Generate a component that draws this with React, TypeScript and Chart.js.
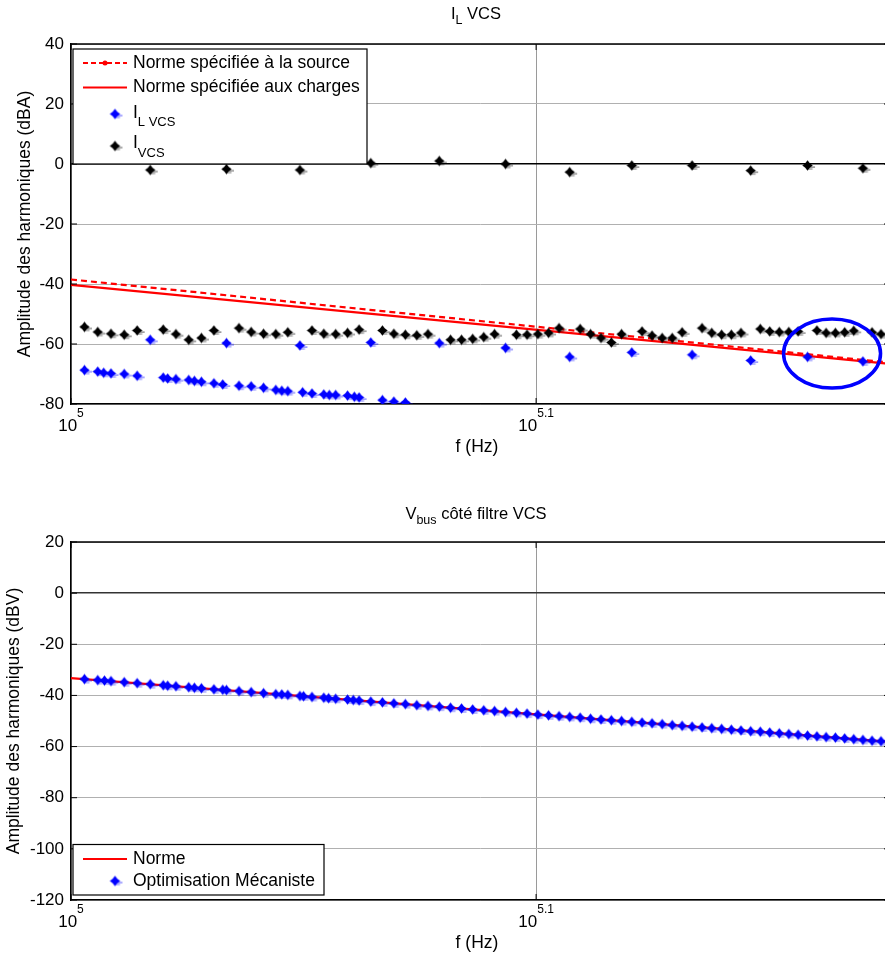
import React, { useEffect, useRef } from "react";
import { Chart, registerables } from "chart.js";

Chart.register(...registerables);

const FONT = '"Liberation Sans", Arial, Helvetica, sans-serif';
const RED = "#ff0000";
const BLUE = "#0000ff";
const BLACK = "#000000";

// ---------- shared x axis ----------
const xTickExponents = [5, 5.1];
const xMinHz = 100000;
const xMaxHz = 150000;
const xAxisTitle = "f (Hz)";

// ---------- top subplot (I_L VCS) ----------
const topYMin = -80;
const topYMax = 40;
const topYLabel = "Amplitude des harmoniques (dBA)";
const harmFreqsKHz = [104, 108, 112, 116, 120, 124, 128, 132, 136, 140, 144, 148];
const iVcsHarm = [-2.0, -1.7, -2.0, 0.3, 1.0, 0.0, -2.7, -0.5, -0.5, -2.2, -0.5, -1.4];
const iLVcsHarm = [-58.6, -59.7, -60.5, -59.5, -59.7, -61.3, -64.3, -62.8, -63.6, -65.5, -64.3, -65.8];
const sideFreqsKHz = [
  100.67, 101.33, 102, 102.67, 103.33,
  104.67, 105.33, 106, 106.67, 107.33,
  108.67, 109.33, 110, 110.67, 111.33,
  112.67, 113.33, 114, 114.67, 115.33,
  116.67, 117.33, 118, 118.67, 119.33,
  120.67, 121.33, 122, 122.67, 123.33,
  124.67, 125.33, 126, 126.67, 127.33,
  128.67, 129.33, 130, 130.67, 131.33,
  132.67, 133.33, 134, 134.67, 135.33,
  136.67, 137.33, 138, 138.67, 139.33,
  140.67, 141.33, 142, 142.67, 143.33,
  144.67, 145.33, 146, 146.67, 147.33,
  148.67, 149.33,
];
const iVcsSide = [
  -54.3, -56.0, -56.6, -56.9, -55.5,
  -55.2, -56.7, -58.6, -58.0, -55.5,
  -54.7, -56.0, -56.6, -56.7, -56.1,
  -55.5, -56.6, -56.7, -56.3, -55.2,
  -55.5, -56.6, -56.9, -57.1, -56.7,
  -58.6, -58.6, -58.3, -57.7, -56.7,
  -56.9, -56.9, -56.7, -56.3, -54.7,
  -55.0, -56.7, -58.0, -59.5, -56.7,
  -55.8, -57.2, -58.0, -58.0, -56.1,
  -54.7, -56.3, -56.9, -56.9, -56.3,
  -55.0, -55.8, -56.0, -56.0, -55.8,
  -55.5, -56.3, -56.3, -56.1, -55.6,
  -56.1, -56.7,
];
const iLVcsLowFreqsKHz = [
  100.67, 101.33, 101.63, 102.0, 102.67, 103.33,
  104.67, 104.9, 105.33, 106.0, 106.3, 106.67, 107.33, 107.8,
  108.67, 109.33, 110.0, 110.67, 111.0, 111.33,
  112.15, 112.67, 113.33, 113.64, 114.0, 114.67, 115.06, 115.33,
  116.67, 117.33, 118.0,
];
const iLVcsLow = [
  -68.7, -69.2, -69.6, -69.8, -70.0, -70.6,
  -71.2, -71.5, -71.7, -72.0, -72.3, -72.6, -73.1, -73.5,
  -73.9, -74.1, -74.6, -75.3, -75.6, -75.7,
  -76.1, -76.5, -76.8, -77.0, -77.0, -77.2, -77.6, -77.8,
  -78.7, -79.2, -79.5,
];
const normFreqsKHz = [100, 150];
const normSource = [-38.5, -66.2];
const normCharges = [-40.3, -66.6];
const ellipseFreqsKHz = [142.3, 149.3];
const ellipseDb = [-74.7, -51.7];

// ---------- bottom subplot (V_bus) ----------
const botYMin = -120;
const botYMax = 20;
const botYLabel = "Amplitude des harmoniques (dBV)";
const vbusFreqsKHz = [
  100.67, 101.33, 101.67, 102, 102.67, 103.33, 104, 104.67, 104.9, 105.33,
  106, 106.3, 106.67, 107.33, 107.8, 108, 108.67, 109.33, 110, 110.67,
  111, 111.33, 112, 112.2, 112.67, 113.33, 113.6, 114, 114.67, 115,
  115.33, 116, 116.67, 117.33, 118, 118.67, 119.33, 120, 120.67, 121.33,
  122, 122.67, 123.33, 124, 124.67, 125.33, 126, 126.67, 127.33, 128,
  128.67, 129.33, 130, 130.67, 131.33, 132, 132.67, 133.33, 134, 134.67,
  135.33, 136, 136.67, 137.33, 138, 138.67, 139.33, 140, 140.67, 141.33,
  142, 142.67, 143.33, 144, 144.67, 145.33, 146, 146.67, 147.33, 148,
  148.67, 149.33,
];
const vbusValues = [
  -33.6, -34.0, -34.2, -34.4, -34.8, -35.2, -35.6, -36.0, -36.2, -36.4,
  -36.8, -37.0, -37.2, -37.6, -37.8, -37.9, -38.3, -38.7, -39.1, -39.5,
  -39.6, -39.8, -40.2, -40.3, -40.6, -40.9, -41.1, -41.3, -41.6, -41.8,
  -42.0, -42.4, -42.7, -43.1, -43.4, -43.8, -44.1, -44.4, -44.8, -45.1,
  -45.5, -45.8, -46.1, -46.5, -46.8, -47.1, -47.5, -47.8, -48.1, -48.4,
  -48.7, -49.1, -49.4, -49.7, -50.0, -50.3, -50.6, -50.9, -51.2, -51.6,
  -51.9, -52.2, -52.5, -52.8, -53.1, -53.4, -53.7, -54.0, -54.2, -54.5,
  -54.8, -55.1, -55.4, -55.7, -56.0, -56.3, -56.5, -56.8, -57.1, -57.4,
  -57.7, -57.9,
];
const vbusNormFreqsKHz = [100, 150];
const vbusNorm = [-33.2, -58.2];

type Seg = { t: string; sub?: boolean };

function pts(fk: number[], v: number[]) {
  return fk.map((f, i) => ({ x: f * 1000, y: v[i] }));
}

function makeMarker(color: string): HTMLCanvasElement {
  const c = document.createElement("canvas");
  c.width = 21;
  c.height = 13;
  const g = c.getContext("2d")!;
  const cx = 10.5, cy = 6.5, r = 5.2, k = 2.3;
  g.fillStyle = color;
  g.beginPath();
  g.moveTo(cx, cy - r);
  g.lineTo(cx + k, cy - k);
  g.lineTo(cx + r, cy);
  g.lineTo(cx + k, cy + k);
  g.lineTo(cx, cy + r);
  g.lineTo(cx - k, cy + k);
  g.lineTo(cx - r, cy);
  g.lineTo(cx - k, cy - k);
  g.closePath();
  g.fill();
  g.globalAlpha = 0.55;
  g.fillRect(cx + 2, cy + 1, 5.5, 1.2);
  g.fillRect(cx + 1, cy + 3, 4, 1);
  return c;
}

function drawRich(ctx: CanvasRenderingContext2D, segs: Seg[], x: number, y: number, align: "left" | "center", big = 17, small = 13, subDy = 9) {
  const widths = segs.map((s) => {
    ctx.font = `${s.sub ? small : big}px ${FONT}`;
    return ctx.measureText(s.t).width;
  });
  const total = widths.reduce((a, b) => a + b, 0);
  let cx = align === "center" ? x - total / 2 : x;
  ctx.textAlign = "left";
  ctx.textBaseline = "middle";
  ctx.fillStyle = "#000";
  segs.forEach((s, i) => {
    ctx.font = `${s.sub ? small : big}px ${FONT}`;
    ctx.fillText(s.t, cx, y + (s.sub ? subDy : 0));
    cx += widths[i];
  });
}

type LegendItem = { kind: "dash" | "line" | "marker"; color: string; marker?: HTMLCanvasElement; segs: Seg[]; y: number; textY?: number; subDy?: number };
type Decor = {
  title: Seg[];
  titleY: number;
  yLabel: string;
  yLabelX: number;
  legendBox: [number, number, number, number];
  legend: LegendItem[];
  ellipse?: boolean;
};

function decorPlugin(d: Decor) {
  return {
    id: "decor",
    afterDraw(chart: any) {
      const { ctx, chartArea: a, scales } = chart;
      const xs = scales.x;
      const ys = scales.y;
      ctx.save();
      // top and right border
      ctx.strokeStyle = "#000";
      ctx.lineWidth = 1.5;
      ctx.beginPath();
      ctx.moveTo(a.left, a.top);
      ctx.lineTo(a.right, a.top);
      ctx.lineTo(a.right, a.bottom);
      ctx.stroke();
      // inner ticks
      ctx.lineWidth = 1;
      ctx.beginPath();
      ys.ticks.forEach((t: any) => {
        const y = ys.getPixelForValue(t.value);
        ctx.moveTo(a.left, y);
        ctx.lineTo(a.left + 6, y);
        ctx.moveTo(a.right, y);
        ctx.lineTo(a.right - 6, y);
      });
      xs.ticks.forEach((t: any) => {
        const x = xs.getPixelForValue(t.value);
        ctx.moveTo(x, a.bottom);
        ctx.lineTo(x, a.bottom - 6);
        ctx.moveTo(x, a.top);
        ctx.lineTo(x, a.top + 6);
      });
      ctx.stroke();
      // x tick labels 10^e
      ctx.fillStyle = "#000";
      xTickExponents.forEach((e) => {
        const x = xs.getPixelForValue(Math.pow(10, e));
        ctx.font = `17px ${FONT}`;
        const w1 = ctx.measureText("10").width;
        ctx.font = `12px ${FONT}`;
        const es = String(e);
        const w2 = ctx.measureText(es).width;
        const left = x - (w1 + w2) / 2;
        ctx.textAlign = "left";
        ctx.textBaseline = "middle";
        ctx.font = `17px ${FONT}`;
        ctx.fillText("10", left, a.bottom + 22);
        ctx.font = `12px ${FONT}`;
        ctx.fillText(es, left + w1, a.bottom + 10);
      });
      // x title
      ctx.font = `17.5px ${FONT}`;
      ctx.textAlign = "center";
      ctx.textBaseline = "middle";
      ctx.fillText(xAxisTitle, 477, a.bottom + 43);
      // y title
      ctx.save();
      ctx.translate(d.yLabelX, (a.top + a.bottom) / 2);
      ctx.rotate(-Math.PI / 2);
      ctx.font = `17.5px ${FONT}`;
      ctx.textAlign = "center";
      ctx.textBaseline = "middle";
      ctx.fillText(d.yLabel, 0, 0);
      ctx.restore();
      // title
      drawRich(ctx, d.title, 476, d.titleY, "center", 16.5, 12.5, 7);
      // ellipse
      if (d.ellipse) {
        const x0 = xs.getPixelForValue(ellipseFreqsKHz[0] * 1000);
        const x1 = xs.getPixelForValue(ellipseFreqsKHz[1] * 1000);
        const y0 = ys.getPixelForValue(ellipseDb[0]);
        const y1 = ys.getPixelForValue(ellipseDb[1]);
        ctx.strokeStyle = BLUE;
        ctx.lineWidth = 3.5;
        ctx.beginPath();
        ctx.ellipse((x0 + x1) / 2, (y0 + y1) / 2, Math.abs(x1 - x0) / 2, Math.abs(y1 - y0) / 2, 0, 0, Math.PI * 2);
        ctx.stroke();
      }
      // legend
      const [bx, by, bw, bh] = d.legendBox;
      ctx.fillStyle = "#fff";
      ctx.fillRect(bx, by, bw, bh);
      ctx.strokeStyle = "#000";
      ctx.lineWidth = 1.2;
      ctx.strokeRect(bx, by, bw, bh);
      d.legend.forEach((it) => {
        if (it.kind === "dash" || it.kind === "line") {
          ctx.strokeStyle = it.color;
          ctx.lineWidth = 2;
          ctx.setLineDash(it.kind === "dash" ? [5, 3] : []);
          ctx.beginPath();
          ctx.moveTo(bx + 10, it.y);
          ctx.lineTo(bx + 54, it.y);
          ctx.stroke();
          ctx.setLineDash([]);
          if (it.kind === "dash") {
            ctx.fillStyle = it.color;
            ctx.beginPath();
            ctx.arc(bx + 32, it.y, 2.5, 0, Math.PI * 2);
            ctx.fill();
          }
        } else if (it.marker) {
          const m = it.marker;
          ctx.drawImage(m, bx + 42 - m.width / 2, it.y - m.height / 2);
        }
        drawRich(ctx, it.segs, bx + 60, it.textY ?? it.y, "left", 17.5, 13, it.subDy ?? 9);
      });
      ctx.restore();
    },
  };
}

function baseOptions(yMin: number, yMax: number, padTop: number, padBottom: number, zeroColor: string) {
  return {
    responsive: false,
    animation: false as const,
    devicePixelRatio: 1,
    events: [] as any[],
    layout: { padding: { left: 0, right: 10, top: padTop, bottom: padBottom } },
    plugins: { legend: { display: false }, tooltip: { enabled: false }, title: { display: false } },
    scales: {
      x: {
        type: "logarithmic" as const,
        min: xMinHz,
        max: xMaxHz,
        afterBuildTicks: (s: any) => {
          s.ticks = xTickExponents.map((e) => ({ value: Math.pow(10, e) }));
        },
        afterFit: (s: any) => {
          s.height = 50;
        },
        ticks: { display: false },
        grid: { color: "#9a9a9a", lineWidth: 1, drawTicks: false },
        border: { display: true, color: "#000", width: 1.5 },
      },
      y: {
        type: "linear" as const,
        min: yMin,
        max: yMax,
        afterFit: (s: any) => {
          s.width = 71;
        },
        ticks: { stepSize: 20, color: "#000", padding: 7, font: { family: FONT, size: 17 } },
        grid: {
          drawTicks: false,
          color: (c: any) => (c.tick && c.tick.value === 0 ? zeroColor : "#b0b0b0"),
          lineWidth: (c: any) => (c.tick && c.tick.value === 0 ? 1.5 : 1),
        },
        border: { display: true, color: "#000", width: 1.5 },
      },
    },
  };
}

export default function App() {
  const topRef = useRef<HTMLCanvasElement>(null);
  const botRef = useRef<HTMLCanvasElement>(null);

  useEffect(() => {
    const mBlue = makeMarker(BLUE);
    const mBlack = makeMarker(BLACK);

    const topChart = new Chart(topRef.current!, {
      type: "line",
      data: {
        datasets: [
          {
            label: "Norme spécifiée à la source",
            data: pts(normFreqsKHz, normSource),
            borderColor: RED,
            borderWidth: 2.2,
            borderDash: [6, 4],
            pointRadius: 0,
            order: 3,
          },
          {
            label: "Norme spécifiée aux charges",
            data: pts(normFreqsKHz, normCharges),
            borderColor: RED,
            borderWidth: 2.2,
            pointRadius: 0,
            order: 2,
          },
          {
            label: "I_L VCS",
            data: [...pts(harmFreqsKHz, iLVcsHarm), ...pts(iLVcsLowFreqsKHz, iLVcsLow)],
            showLine: false,
            pointStyle: mBlue as any,
            pointRadius: 5,
            order: 1,
          },
          {
            label: "I_VCS",
            data: [...pts(harmFreqsKHz, iVcsHarm), ...pts(sideFreqsKHz, iVcsSide)],
            showLine: false,
            pointStyle: mBlack as any,
            pointRadius: 5,
            order: 0,
          },
        ] as any,
      },
      options: baseOptions(topYMin, topYMax, 44, 24, "#000") as any,
      plugins: [
        decorPlugin({
          title: [{ t: "I" }, { t: "L", sub: true }, { t: " VCS" }],
          titleY: 14,
          yLabel: topYLabel,
          yLabelX: 25.5,
          legendBox: [73, 49, 294, 115],
          legend: [
            { kind: "dash", color: RED, segs: [{ t: "Norme spécifiée à la source" }], y: 63 },
            { kind: "line", color: RED, segs: [{ t: "Norme spécifiée aux charges" }], y: 87.5 },
            { kind: "marker", color: BLUE, marker: mBlue, segs: [{ t: "I" }, { t: "L VCS", sub: true }], y: 114, textY: 113, subDy: 9 },
            { kind: "marker", color: BLACK, marker: mBlack, segs: [{ t: "I" }, { t: "VCS", sub: true }], y: 146, textY: 143, subDy: 10 },
          ],
          ellipse: true,
        }),
      ],
    });

    const botChart = new Chart(botRef.current!, {
      type: "line",
      data: {
        datasets: [
          {
            label: "Norme",
            data: pts(vbusNormFreqsKHz, vbusNorm),
            borderColor: RED,
            borderWidth: 2.2,
            pointRadius: 0,
            order: 1,
          },
          {
            label: "Optimisation Mécaniste",
            data: pts(vbusFreqsKHz, vbusValues),
            showLine: false,
            pointStyle: mBlue as any,
            pointRadius: 5,
            order: 0,
          },
        ] as any,
      },
      options: baseOptions(botYMin, botYMax, 64, 6, "#333") as any,
      plugins: [
        decorPlugin({
          title: [{ t: "V" }, { t: "bus", sub: true }, { t: " côté filtre VCS" }],
          titleY: 36,
          yLabel: botYLabel,
          yLabelX: 14.5,
          legendBox: [73, 366.5, 251, 50.5],
          legend: [
            { kind: "line", color: RED, segs: [{ t: "Norme" }], y: 381 },
            { kind: "marker", color: BLUE, marker: mBlue, segs: [{ t: "Optimisation Mécaniste" }], y: 403 },
          ],
        }),
      ],
    });

    return () => {
      topChart.destroy();
      botChart.destroy();
    };
  }, []);

  return (
    <div style={{ position: "absolute", left: 0, top: 0, width: 885, height: 956, overflow: "hidden", background: "#fff" }}>
      <canvas ref={topRef} width={900} height={478} style={{ position: "absolute", left: 0, top: 0, width: 900, height: 478 }} />
      <canvas ref={botRef} width={900} height={478} style={{ position: "absolute", left: 0, top: 478, width: 900, height: 478 }} />
    </div>
  );
}
